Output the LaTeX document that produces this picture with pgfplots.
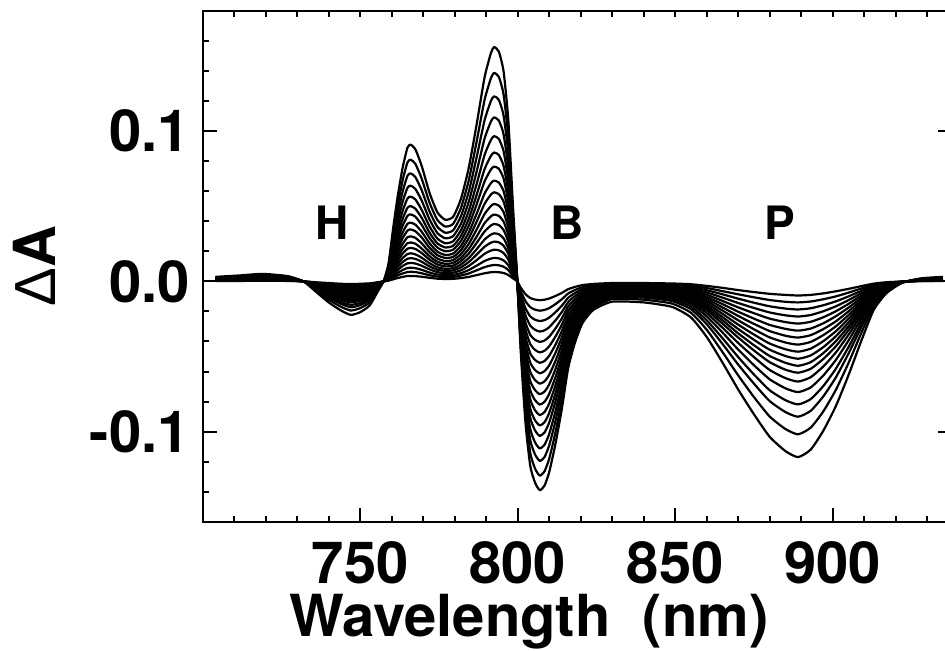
\documentclass[border=0pt]{standalone}
\usepackage{pgfplots}
\pgfplotsset{compat=1.18}
\usepackage{pgfplotstable}
\usepackage{fontspec}
\setmainfont{TeX Gyre Heros}
\newfontfamily\greek{Liberation Sans}

% Delta A in units of 1e-3, one column per spectrum
\pgfplotstableread{
wl c1 c2 c3 c4 c5 c6 c7 c8 c9 c10 c11 c12 c13 c14 c15 c16 c17 c18
704 3 2.6 2.3 2.1 1.9 1.7 1.6 1.4 1.3 1.2 1.1 1.0 0.8 0.7 0.6 0.5 0.4 0.2
712 4 3.5 3.1 2.8 2.5 2.3 2.1 1.9 1.8 1.6 1.4 1.3 1.1 1.0 0.8 0.6 0.5 0.3
719 5 4.4 3.9 3.5 3.2 2.9 2.6 2.4 2.2 2.0 1.8 1.6 1.4 1.2 1.0 0.8 0.6 0.4
727 3.5 3.0 2.7 2.5 2.2 2.0 1.8 1.7 1.5 1.4 1.3 1.1 1.0 0.8 0.7 0.6 0.4 0.3
732 0 0 0 0 0 0 0 0 0 0 0 0 0 0 0 0 0 0
736 -7 -6.1 -5.4 -4.9 -4.4 -4.0 -3.6 -3.4 -3.1 -2.8 -2.5 -2.2 -2.0 -1.7 -1.4 -1.1 -0.8 -0.6
740 -14 -12.2 -10.8 -9.8 -8.8 -8.0 -7.3 -6.7 -6.2 -5.6 -5.0 -4.5 -3.9 -3.4 -2.8 -2.2 -1.7 -1.1
744 -19.5 -17.0 -15.0 -13.7 -12.3 -11.1 -10.1 -9.4 -8.6 -7.8 -7.0 -6.2 -5.5 -4.7 -3.9 -3.1 -2.3 -1.6
747 -22.3 -19.4 -17.2 -15.6 -14.0 -12.7 -11.6 -10.7 -9.8 -8.9 -8.0 -7.1 -6.2 -5.4 -4.5 -3.6 -2.7 -1.8
750 -20.5 -17.8 -15.8 -14.4 -12.9 -11.7 -10.7 -9.8 -9.0 -8.2 -7.4 -6.6 -5.7 -4.9 -4.1 -3.3 -2.5 -1.6
753 -16 -13.9 -12.3 -11.2 -10.1 -9.1 -8.3 -7.7 -7.0 -6.4 -5.8 -5.1 -4.5 -3.8 -3.2 -2.6 -1.9 -1.3
755.5 -7 -6.1 -5.4 -4.9 -4.4 -4.0 -3.6 -3.4 -3.1 -2.8 -2.5 -2.2 -2.0 -1.7 -1.4 -1.1 -0.8 -0.6
757.5 0.5 0.4 0.4 0.4 0.3 0.3 0.3 0.2 0.2 0.2 0.2 0.2 0.1 0.1 0.1 0.1 0.1 0.0
759 12 10.7 9.5 8.4 7.4 6.6 5.9 5.2 4.6 4.0 3.4 2.9 2.5 2.0 1.6 1.2 0.8 0.5
760.5 36 32.0 28.4 25.2 22.3 19.8 17.6 15.5 13.7 11.9 10.3 8.8 7.4 6.1 4.9 3.6 2.5 1.4
762 58 51.6 45.8 40.6 36.0 31.9 28.4 24.9 22.0 19.1 16.5 14.2 11.9 9.9 7.8 5.8 4.1 2.3
763.5 76 67.6 60.0 53.2 47.1 41.8 37.2 32.7 28.9 25.1 21.7 18.6 15.6 12.9 10.3 7.6 5.3 3.0
765 89 79.2 70.3 62.3 55.2 49.0 43.6 38.3 33.8 29.4 25.4 21.8 18.2 15.1 12.0 8.9 6.2 3.6
766 91 81.0 71.9 63.7 56.4 50.1 44.6 39.1 34.6 30.0 25.9 22.3 18.7 15.5 12.3 9.1 6.4 3.6
767.5 88 78.3 69.5 61.6 54.6 48.4 43.1 37.8 33.4 29.0 25.1 21.6 18.0 15.0 11.9 8.8 6.2 3.5
769.5 77 68.5 60.8 53.9 47.7 42.4 37.7 33.1 29.3 25.4 21.9 18.9 15.8 13.1 10.4 7.7 5.4 3.1
772 59 52.5 46.6 41.3 36.6 32.5 28.9 25.4 22.4 19.5 16.8 14.5 12.1 10.0 8.0 5.9 4.1 2.4
774.5 46 40.9 36.3 32.2 28.5 25.3 22.5 19.8 17.5 15.2 13.1 11.3 9.4 7.8 6.2 4.6 3.2 1.8
777 41 36.5 32.4 28.7 25.4 22.6 20.1 17.6 15.6 13.5 11.7 10.0 8.4 7.0 5.5 4.1 2.9 1.6
779.5 43 38.3 34.0 30.1 26.7 23.7 21.1 18.5 16.3 14.2 12.3 10.5 8.8 7.3 5.8 4.3 3.0 1.7
782 55 49.0 43.5 38.5 34.1 30.3 27.0 23.7 20.9 18.2 15.7 13.5 11.3 9.4 7.4 5.5 3.9 2.2
784.5 76 67.6 60.0 53.2 47.1 41.8 37.2 32.7 28.9 25.1 21.7 18.6 15.6 12.9 10.3 7.6 5.3 3.0
787 105 93.5 83.0 73.5 65.1 57.8 51.5 45.2 39.9 34.7 29.9 25.7 21.5 17.9 14.2 10.5 7.4 4.2
789.5 136 121.0 107.4 95.2 84.3 74.8 66.6 58.5 51.7 44.9 38.8 33.3 27.9 23.1 18.4 13.6 9.5 5.4
791.5 152 135.3 120.1 106.4 94.2 83.6 74.5 65.4 57.8 50.2 43.3 37.2 31.2 25.8 20.5 15.2 10.6 6.1
792.5 156 138.8 123.2 109.2 96.7 85.8 76.4 67.1 59.3 51.5 44.5 38.2 32.0 26.5 21.1 15.6 10.9 6.2
794 153 136.2 120.9 107.1 94.9 84.2 75.0 65.8 58.1 50.5 43.6 37.5 31.4 26.0 20.7 15.3 10.7 6.1
795.5 140 124.6 110.6 98.0 86.8 77.0 68.6 60.2 53.2 46.2 39.9 34.3 28.7 23.8 18.9 14.0 9.8 5.6
797 108 96.1 85.3 75.6 67.0 59.4 52.9 46.4 41.0 35.6 30.8 26.5 22.1 18.4 14.6 10.8 7.6 4.3
798.5 50 44.5 39.5 35.0 31.0 27.5 24.5 21.5 19.0 16.5 14.3 12.3 10.3 8.5 6.8 5.0 3.5 2.0
799.8 3 2.7 2.4 2.1 1.9 1.7 1.5 1.3 1.1 1.0 0.9 0.7 0.6 0.5 0.4 0.3 0.2 0.1
801 -48 -44.6 -41.3 -38.4 -35.5 -33.1 -30.7 -28.3 -25.9 -23.5 -21.1 -18.7 -16.3 -13.9 -11.5 -9.1 -6.7 -4.3
802.5 -95 -88.4 -81.7 -76.0 -70.3 -65.6 -60.8 -56.1 -51.3 -46.6 -41.8 -37.1 -32.3 -27.6 -22.8 -18.1 -13.3 -8.6
804 -123 -114.4 -105.8 -98.4 -91.0 -84.9 -78.7 -72.6 -66.4 -60.3 -54.1 -48.0 -41.8 -35.7 -29.5 -23.4 -17.2 -11.1
805.5 -134 -124.6 -115.2 -107.2 -99.2 -92.5 -85.8 -79.1 -72.4 -65.7 -59.0 -52.3 -45.6 -38.9 -32.2 -25.5 -18.8 -12.1
807 -139 -129.3 -119.5 -111.2 -102.9 -95.9 -89.0 -82.0 -75.1 -68.1 -61.2 -54.2 -47.3 -40.3 -33.4 -26.4 -19.5 -12.5
808.5 -136 -126.5 -117.0 -108.8 -100.6 -93.8 -87.0 -80.2 -73.4 -66.6 -59.8 -53.0 -46.2 -39.4 -32.6 -25.8 -19.0 -12.2
810 -127 -118.1 -109.2 -101.6 -94.0 -87.6 -81.3 -74.9 -68.6 -62.2 -55.9 -49.5 -43.2 -36.8 -30.5 -24.1 -17.8 -11.4
812 -108 -100.4 -92.9 -86.4 -79.9 -74.5 -69.1 -63.7 -58.3 -52.9 -47.5 -42.1 -36.7 -31.3 -25.9 -20.5 -15.1 -9.7
814 -85 -79.1 -73.1 -68.0 -62.9 -58.7 -54.4 -50.2 -45.9 -41.7 -37.4 -33.2 -28.9 -24.7 -20.4 -16.2 -11.9 -7.7
816 -58 -53.9 -49.9 -46.4 -42.9 -40.0 -37.1 -34.2 -31.3 -28.4 -25.5 -22.6 -19.7 -16.8 -13.9 -11.0 -8.1 -5.2
818 -42 -39.1 -36.1 -33.6 -31.1 -29.0 -26.9 -24.8 -22.7 -20.6 -18.5 -16.4 -14.3 -12.2 -10.1 -8.0 -5.9 -3.8
820.5 -28 -26.0 -24.1 -22.4 -20.7 -19.3 -17.9 -16.5 -15.1 -13.7 -12.3 -10.9 -9.5 -8.1 -6.7 -5.3 -3.9 -2.5
824 -19 -17.7 -16.3 -15.2 -14.1 -13.1 -12.2 -11.2 -10.3 -9.3 -8.4 -7.4 -6.5 -5.5 -4.6 -3.6 -2.7 -1.7
830 -13.5 -11.7 -10.4 -9.5 -8.5 -7.7 -7.0 -6.5 -5.9 -5.4 -4.9 -4.3 -3.8 -3.2 -2.7 -2.2 -1.6 -1.1
840 -14 -12.2 -10.8 -9.8 -8.8 -8.0 -7.3 -6.7 -6.2 -5.6 -5.0 -4.5 -3.9 -3.4 -2.8 -2.2 -1.7 -1.1
849 -17 -14.8 -13.1 -11.9 -10.7 -9.7 -8.8 -8.2 -7.5 -6.8 -6.1 -5.4 -4.8 -4.1 -3.4 -2.7 -2.0 -1.4
855 -24 -20.9 -18.5 -16.8 -15.1 -13.7 -12.5 -11.5 -10.6 -9.6 -8.6 -7.7 -6.7 -5.8 -4.8 -3.8 -2.9 -1.9
860 -37 -32.2 -28.5 -25.9 -23.3 -21.1 -19.2 -17.8 -16.3 -14.8 -13.3 -11.8 -10.4 -8.9 -7.4 -5.9 -4.4 -3.0
865 -54 -47.0 -41.6 -37.8 -34.0 -30.8 -28.1 -25.9 -23.8 -21.6 -19.4 -17.3 -15.1 -13.0 -10.8 -8.6 -6.5 -4.3
870 -72 -62.6 -55.4 -50.4 -45.4 -41.0 -37.4 -34.6 -31.7 -28.8 -25.9 -23.0 -20.2 -17.3 -14.4 -11.5 -8.6 -5.8
875 -88.5 -77.0 -68.1 -62.0 -55.8 -50.4 -46.0 -42.5 -38.9 -35.4 -31.9 -28.3 -24.8 -21.2 -17.7 -14.2 -10.6 -7.1
880 -103.5 -90.0 -79.7 -72.5 -65.2 -59.0 -53.8 -49.7 -45.5 -41.4 -37.3 -33.1 -29.0 -24.8 -20.7 -16.6 -12.4 -8.3
885 -113 -98.3 -87.0 -79.1 -71.2 -64.4 -58.8 -54.2 -49.7 -45.2 -40.7 -36.2 -31.6 -27.1 -22.6 -18.1 -13.6 -9.0
889 -117 -101.8 -90.1 -81.9 -73.7 -66.7 -60.8 -56.2 -51.5 -46.8 -42.1 -37.4 -32.8 -28.1 -23.4 -18.7 -14.0 -9.4
893 -112 -97.4 -86.2 -78.4 -70.6 -63.8 -58.2 -53.8 -49.3 -44.8 -40.3 -35.8 -31.4 -26.9 -22.4 -17.9 -13.4 -9.0
897 -99.5 -86.6 -76.6 -69.7 -62.7 -56.7 -51.7 -47.8 -43.8 -39.8 -35.8 -31.8 -27.9 -23.9 -19.9 -15.9 -11.9 -8.0
901 -83 -72.2 -63.9 -58.1 -52.3 -47.3 -43.2 -39.8 -36.5 -33.2 -29.9 -26.6 -23.2 -19.9 -16.6 -13.3 -10.0 -6.6
905 -62.5 -54.4 -48.1 -43.8 -39.4 -35.6 -32.5 -30.0 -27.5 -25.0 -22.5 -20.0 -17.5 -15.0 -12.5 -10.0 -7.5 -5.0
909 -40 -34.8 -30.8 -28.0 -25.2 -22.8 -20.8 -19.2 -17.6 -16.0 -14.4 -12.8 -11.2 -9.6 -8.0 -6.4 -4.8 -3.2
913 -19 -16.5 -14.6 -13.3 -12.0 -10.8 -9.9 -9.1 -8.4 -7.6 -6.8 -6.1 -5.3 -4.6 -3.8 -3.0 -2.3 -1.5
917 -8 -7.0 -6.2 -5.6 -5.0 -4.6 -4.2 -3.8 -3.5 -3.2 -2.9 -2.6 -2.2 -1.9 -1.6 -1.3 -1.0 -0.6
922 -1 -0.9 -0.8 -0.7 -0.6 -0.6 -0.5 -0.5 -0.4 -0.4 -0.4 -0.3 -0.3 -0.2 -0.2 -0.2 -0.1 -0.1
928 2 1.7 1.5 1.4 1.3 1.1 1.0 1.0 0.9 0.8 0.7 0.6 0.6 0.5 0.4 0.3 0.2 0.2
935 3 2.6 2.3 2.1 1.9 1.7 1.6 1.4 1.3 1.2 1.1 1.0 0.8 0.7 0.6 0.5 0.4 0.2
}\spectra

\begin{document}
\begin{tikzpicture}
\begin{axis}[
    at={(0,0)}, anchor=south west,
    scale only axis,
    width=374.85pt, height=255.35pt,
    xmin=700, xmax=938,
    ymin=-160, ymax=180,
    axis line style={line width=1.2pt},
    tick align=inside,
    xtick pos=left, ytick pos=left,
    xtick={750,800,850,900},
    xticklabels={750,800,850,900},
    minor xtick={700,710,...,930},
    ytick={-100,0,100},
    yticklabels={-0.1,0.0,0.1},
    minor ytick={-160,-140,...,180},
    major tick length=7pt,
    minor tick length=3pt,
    tick style={line width=1pt, black},
    tick label style={font=\fontsize{29}{32}\selectfont\bfseries},
    xticklabel style={anchor=base, yshift=-31pt, inner sep=0pt},
    yticklabel style={anchor=east, xshift=-6.3pt, inner sep=0pt},
    xlabel={Wavelength~~(nm)},
    xlabel style={at={(axis description cs:0.435,-0.2245)}, anchor=base,
        inner sep=0pt, font=\fontsize{29}{32}\selectfont\bfseries},
    ylabel={{\greek\mdseries Δ}A},
    ylabel style={at={(axis description cs:-0.225,0.5)}, anchor=center,
        inner sep=0pt, font=\fontsize{29}{32}\selectfont\bfseries},
]
\pgfplotsinvokeforeach{1,...,18}{
  \addplot[black, line width=1.1pt, line join=round, no markers,
           smooth, tension=0.35]
    table[x=wl, y=c#1] {\spectra};
}
\node[anchor=base, inner sep=0pt, font=\fontsize{23}{25}\selectfont\bfseries]
  at (axis cs:741.2,28) {H};
\node[anchor=base, inner sep=0pt, font=\fontsize{23}{25}\selectfont\bfseries]
  at (axis cs:815.7,28) {B};
\node[anchor=base, inner sep=0pt, font=\fontsize{23}{25}\selectfont\bfseries]
  at (axis cs:883.1,28) {P};
\end{axis}

% top and right ticks
\begin{axis}[
    at={(0,0)}, anchor=south west,
    scale only axis,
    width=374.85pt, height=255.35pt,
    xmin=700, xmax=938,
    ymin=-160, ymax=180,
    axis line style={draw=none},
    tick align=inside,
    xtick pos=right, ytick pos=right,
    xtick={700},
    minor xtick={710,720,...,930},
    ytick={-100,0,100},
    xticklabels={}, yticklabels={},
    major tick length=7pt,
    minor tick length=3pt,
    tick style={line width=1pt, black},
]
\end{axis}

\pgfresetboundingbox
\useasboundingbox (-101.35pt,-64.15pt) rectangle (371.15pt,260.85pt);
\end{tikzpicture}
\end{document}
